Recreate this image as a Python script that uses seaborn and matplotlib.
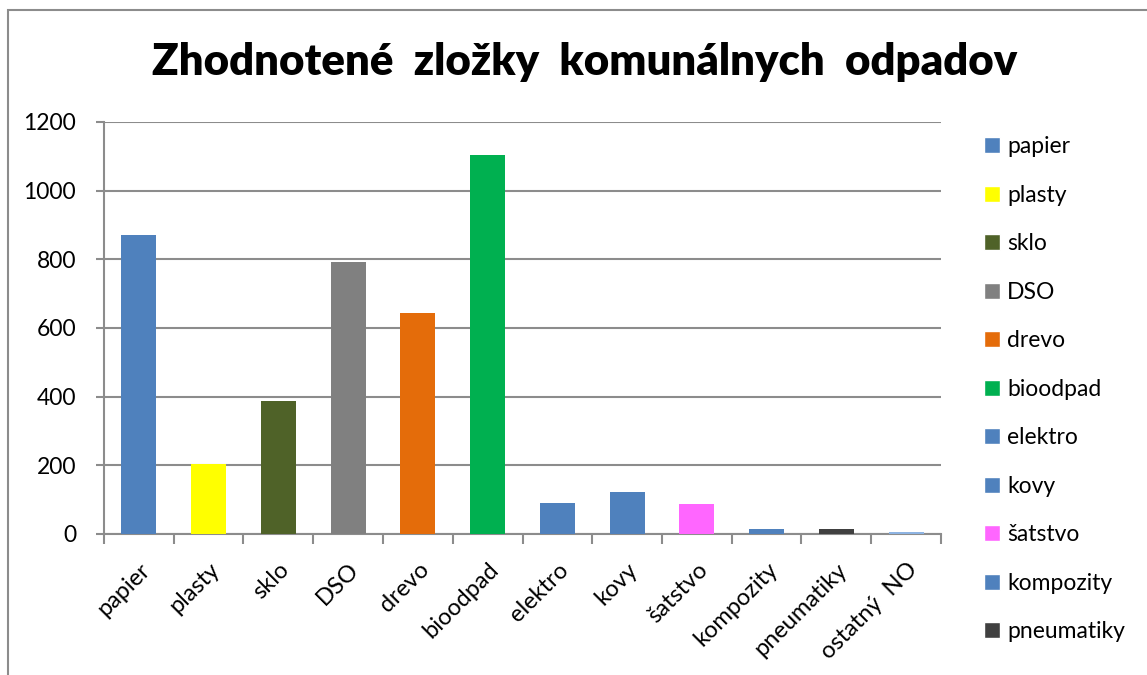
import matplotlib as mpl
import matplotlib.pyplot as plt
import numpy as np
import pandas as pd
import seaborn as sns
from matplotlib.patches import Patch, Rectangle

categories = ["papier", "plasty", "sklo", "DSO", "drevo", "bioodpad", "elektro",
              "kovy", "šatstvo", "kompozity", "pneumatiky", "ostatný  NO"]
values = [871, 205, 386, 792, 643, 1104, 90, 122, 87, 14, 14, 5]
colors = ["#4F81BD", "#FFFF00", "#4F6228", "#808080", "#E46C0A", "#00B050", "#4F81BD",
          "#4F81BD", "#FF66FF", "#4F81BD", "#404040", "#8EB4E3"]
y_ticks = [0, 200, 400, 600, 800, 1000, 1200]
title = "Zhodnotené  zložky  komunálnych  odpadov"

df = pd.DataFrame({"category": categories, "value": values})

sns.set_style("white")
plt.rcParams["font.family"] = ["Lato", "DejaVu Sans"]
plt.rcParams["text.color"] = "black"
plt.rcParams["xtick.color"] = "black"
plt.rcParams["ytick.color"] = "black"

fig = plt.figure(figsize=(11.47, 6.75), dpi=100)
ax = fig.add_axes([104 / 1147, 141 / 675, 837 / 1147, 412 / 675])

sns.barplot(data=df, x="category", y="value", hue="category",
            palette=dict(zip(categories, colors)), width=0.5,
            saturation=1, legend=False, ax=ax, zorder=3, linewidth=0)

grid_color = "#8C8C8C"
ax.set_ylim(0, 1200)
ax.set_xlim(-0.5, len(categories) - 0.5)
ax.set_yticks(y_ticks)
ax.set_yticklabels([str(t) for t in y_ticks], fontsize=16.5)
ax.yaxis.grid(True, color=grid_color, linewidth=1.5, zorder=0)
ax.set_axisbelow(True)
ax.tick_params(axis="y", length=6, width=1.5, color=grid_color, labelcolor="black",
               pad=14, left=True)

ax.set_xticks(range(len(categories)))
ax.set_xticklabels(categories, rotation=45, ha="right", rotation_mode="anchor",
                   fontsize=17)
ax.tick_params(axis="x", which="major", length=0, pad=18, labelcolor="black")
ax.set_xticks(np.arange(-0.5, len(categories)), minor=True)
ax.tick_params(axis="x", which="minor", length=7, width=1.5, color=grid_color,
               bottom=True)
ax.set_xlabel("")
ax.set_ylabel("")

for side in ["top", "right"]:
    ax.spines[side].set_visible(False)
for side in ["left", "bottom"]:
    ax.spines[side].set_color(grid_color)
    ax.spines[side].set_linewidth(1.5)

fig.text(585 / 1147, 1 - 62 / 675, title, ha="center", va="center",
         fontsize=31.5, fontweight="heavy", color="black")

handles = [Patch(facecolor=c, label=l) for c, l in zip(colors[:11], categories[:11])]
fig.legend(handles=handles, loc="upper left", bbox_to_anchor=(975 / 1147, 1 - 127 / 675),
           frameon=False, fontsize=16.5, handlelength=0.7, handleheight=0.7,
           handletextpad=0.3, labelspacing=1.2, borderaxespad=0, labelcolor="black")

fig.patches.append(Rectangle((8 / 1147, -0.1), 1.2, 1.1 - 10 / 675,
                             transform=fig.transFigure, fill=False,
                             edgecolor=grid_color, linewidth=1.5))

fig.savefig("out.png", dpi=100)
